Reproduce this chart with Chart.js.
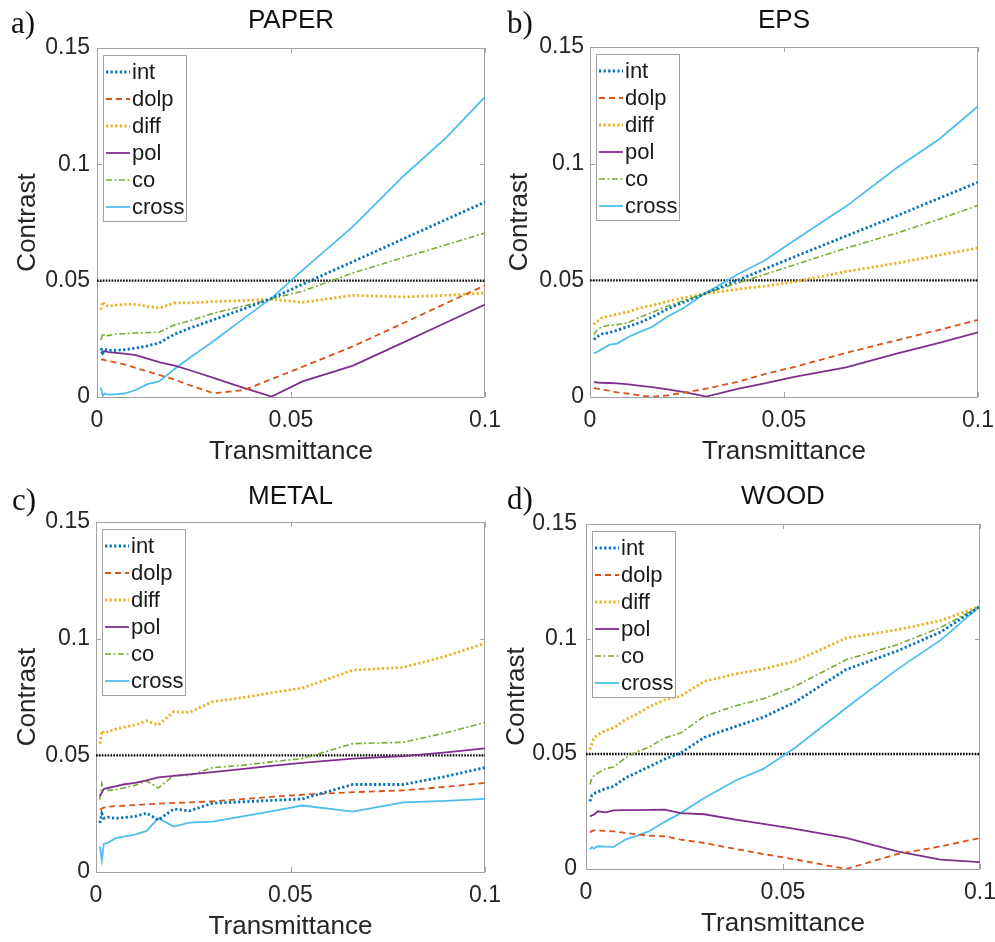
<!DOCTYPE html>
<html>
<head>
<meta charset="utf-8">
<script src="https://cdn.jsdelivr.net/npm/chart.js@4.4.1/dist/chart.umd.min.js"></script>
<style>
  body { margin: 0; background: #fff; width: 995px; height: 942px; position: relative; overflow: hidden; }
  canvas { position: absolute; }
  .tag { position: absolute; font-family: "Liberation Serif", "Times New Roman", serif; font-size: 31px; line-height: 31px; color: #111; }
</style>
</head>
<body>
<canvas id="cPaper" width="515" height="470" style="left:0;top:0"></canvas>
<canvas id="cEps" width="498" height="470" style="left:497px;top:0"></canvas>
<canvas id="cMetal" width="515" height="471" style="left:0;top:471px"></canvas>
<canvas id="cWood" width="498" height="471" style="left:497px;top:471px"></canvas>
<div class="tag" style="left:11px;top:7px">a)</div>
<div class="tag" style="left:507px;top:7px">b)</div>
<div class="tag" style="left:12px;top:484px">c)</div>
<div class="tag" style="left:507px;top:483px">d)</div>
<script>
/*
  4 panneaux : contraste en fonction de la transmittance (paper, eps, metal, wood)
*/
var transmittance = [0.001, 0.0015, 0.002, 0.003, 0.005, 0.007, 0.01, 0.013, 0.016, 0.02, 0.024, 0.03, 0.038, 0.045, 0.053, 0.066, 0.079, 0.09, 0.1];
var xTicks = [0, 0.05, 0.1];
var yTicks = [0, 0.05, 0.1, 0.15];
var threshold = 0.05;
var seriesNames = ['int', 'dolp', 'diff', 'pol', 'co', 'cross'];

// PAPER
var paperInt   = [0.021, 0.019, 0.0205, 0.020, 0.0201, 0.0203, 0.021, 0.022, 0.0232, 0.027, 0.0296, 0.0332, 0.038, 0.0424, 0.0485, 0.0582, 0.068, 0.0763, 0.0838];
var paperDolp  = [0.016, 0.0162, 0.0158, 0.0155, 0.0148, 0.014, 0.0125, 0.011, 0.0095, 0.0075, 0.005, 0.0016, 0.003, 0.0077, 0.013, 0.0218, 0.0318, 0.0403, 0.048];
var paperDiff  = [0.0375, 0.041, 0.0395, 0.039, 0.0395, 0.0398, 0.0398, 0.039, 0.0382, 0.0404, 0.0405, 0.041, 0.0415, 0.042, 0.0407, 0.0437, 0.043, 0.0437, 0.0447];
var paperPol   = [0.0188, 0.0196, 0.0197, 0.0193, 0.019, 0.0186, 0.018, 0.0165, 0.015, 0.0135, 0.0115, 0.0082, 0.0038, 0.0002, 0.0067, 0.0135, 0.0235, 0.032, 0.0397];
var paperCo    = [0.0245, 0.0275, 0.026, 0.0265, 0.027, 0.0272, 0.0275, 0.0277, 0.0278, 0.031, 0.0328, 0.036, 0.0392, 0.0422, 0.0455, 0.0533, 0.06, 0.0654, 0.0705];
var paperCross = [0.004, 0.0005, 0.0015, 0.001, 0.0012, 0.0015, 0.003, 0.0055, 0.0067, 0.012, 0.017, 0.024, 0.034, 0.0425, 0.0545, 0.0733, 0.095, 0.1115, 0.129];

// EPS
var epsInt   = [0.0246, 0.0255, 0.026, 0.027, 0.0276, 0.0286, 0.0303, 0.032, 0.0342, 0.0378, 0.0405, 0.0446, 0.05, 0.0548, 0.0603, 0.069, 0.0776, 0.0852, 0.092];
var epsDolp  = [0.0039, 0.0037, 0.0036, 0.0032, 0.0027, 0.002, 0.0014, 0.0006, 0.0001, 0.0007, 0.0018, 0.0036, 0.0065, 0.0098, 0.013, 0.0189, 0.0243, 0.0288, 0.0331];
var epsDiff  = [0.031, 0.032, 0.0325, 0.0338, 0.0347, 0.0355, 0.0366, 0.0382, 0.0392, 0.041, 0.0425, 0.0443, 0.0462, 0.0475, 0.0495, 0.0538, 0.0573, 0.0608, 0.0639];
var epsPol   = [0.0063, 0.0064, 0.0062, 0.0061, 0.006, 0.0058, 0.0054, 0.0048, 0.0042, 0.0033, 0.0022, 0.0002, 0.0035, 0.0058, 0.0087, 0.0127, 0.0186, 0.0232, 0.0277];
var epsCo    = [0.0267, 0.028, 0.029, 0.030, 0.0308, 0.031, 0.032, 0.0343, 0.0362, 0.039, 0.0412, 0.0445, 0.0488, 0.0525, 0.0568, 0.0638, 0.0702, 0.0762, 0.0821];
var epsCross = [0.0189, 0.019, 0.0195, 0.0205, 0.0224, 0.0229, 0.0258, 0.028, 0.030, 0.0345, 0.038, 0.0448, 0.0525, 0.0585, 0.0675, 0.0817, 0.0981, 0.1105, 0.1246];

// METAL
var metalInt   = [0.021, 0.025, 0.023, 0.0235, 0.023, 0.0233, 0.0238, 0.0252, 0.0223, 0.027, 0.0262, 0.0295, 0.0301, 0.0307, 0.0313, 0.0375, 0.0375, 0.041, 0.0447];
var metalDolp  = [0.0267, 0.0272, 0.0276, 0.028, 0.0282, 0.0284, 0.0287, 0.029, 0.0293, 0.0296, 0.0298, 0.0303, 0.0313, 0.0322, 0.0331, 0.0342, 0.035, 0.0365, 0.0382];
var metalDiff  = [0.055, 0.0605, 0.0595, 0.06, 0.0612, 0.062, 0.063, 0.0648, 0.063, 0.0687, 0.0684, 0.073, 0.0748, 0.0768, 0.0788, 0.0865, 0.0877, 0.0925, 0.098];
var metalPol   = [0.0324, 0.034, 0.0356, 0.036, 0.0367, 0.0375, 0.0382, 0.0393, 0.0406, 0.0412, 0.0418, 0.0428, 0.0442, 0.0455, 0.0468, 0.0486, 0.0497, 0.0513, 0.053];
var metalCo    = [0.031, 0.038, 0.0356, 0.035, 0.0353, 0.036, 0.0372, 0.039, 0.036, 0.0414, 0.0414, 0.0447, 0.0458, 0.0472, 0.0486, 0.055, 0.0556, 0.0597, 0.0641];
var metalCross = [0.011, 0.005, 0.012, 0.0125, 0.0144, 0.0152, 0.016, 0.0176, 0.023, 0.0195, 0.0212, 0.0216, 0.0239, 0.026, 0.0285, 0.0259, 0.0298, 0.0305, 0.0313];

// WOOD
var woodInt   = [0.0294, 0.032, 0.0328, 0.0335, 0.035, 0.0359, 0.0396, 0.042, 0.0445, 0.0478, 0.0504, 0.0572, 0.062, 0.066, 0.0725, 0.0867, 0.0948, 0.103, 0.1142];
var woodDolp  = [0.0159, 0.0165, 0.0168, 0.0167, 0.0166, 0.0164, 0.0157, 0.015, 0.0145, 0.0142, 0.0128, 0.0113, 0.0087, 0.0065, 0.0042, 0.0, 0.0065, 0.0098, 0.0135];
var woodDiff  = [0.0519, 0.0545, 0.057, 0.0584, 0.0603, 0.0613, 0.0649, 0.0675, 0.0705, 0.0736, 0.0751, 0.0816, 0.0848, 0.087, 0.0903, 0.1004, 0.104, 0.108, 0.1142];
var woodPol   = [0.0229, 0.0233, 0.0236, 0.0251, 0.0246, 0.0255, 0.0256, 0.0256, 0.0257, 0.0258, 0.0243, 0.0238, 0.0215, 0.0196, 0.0174, 0.0135, 0.0077, 0.0041, 0.003];
var woodCo    = [0.0367, 0.0395, 0.0405, 0.0417, 0.0437, 0.0443, 0.0483, 0.051, 0.053, 0.057, 0.0591, 0.0664, 0.071, 0.074, 0.0794, 0.091, 0.0975, 0.105, 0.1142];
var woodCross = [0.0085, 0.0095, 0.0088, 0.0099, 0.0097, 0.0096, 0.0128, 0.0145, 0.0164, 0.0205, 0.0243, 0.0309, 0.0385, 0.0435, 0.0526, 0.07, 0.0868, 0.0995, 0.1142];

// styles des courbes (couleurs matlab)
var seriesStyle = [
  { color: '#0072BD', width: 2.8, dash: [2.2, 2.4] },
  { color: '#D95319', width: 1.8, dash: [6, 4] },
  { color: '#EDB120', width: 2.8, dash: [2.2, 2.4] },
  { color: '#7E2F8E', width: 1.8, dash: [] },
  { color: '#77AC30', width: 1.6, dash: [6, 2.5, 2, 2.5] },
  { color: '#4DBEEE', width: 1.8, dash: [] }
];

Chart.defaults.font.family = '"Liberation Sans", Arial, sans-serif';
Chart.defaults.color = '#262626';

function fmt(v) {
  return String(+(+v).toFixed(3));
}

function points(ys) {
  return transmittance.map(function (t, i) { return { x: t, y: ys[i] }; });
}

// cadre gris + petits ticks vers l'interieur
var framePlugin = {
  id: 'frame',
  beforeDatasetsDraw: function (chart) {
    var ctx = chart.ctx, a = chart.chartArea, sx = chart.scales.x, sy = chart.scales.y;
    ctx.save();
    ctx.strokeStyle = '#a3a3a3';
    ctx.lineWidth = 1;
    ctx.strokeRect(Math.round(a.left) + 0.5, Math.round(a.top) + 0.5, Math.round(a.width) - 1, Math.round(a.height));
    ctx.beginPath();
    xTicks.forEach(function (v) {
      var px = Math.round(sx.getPixelForValue(v)) + 0.5;
      ctx.moveTo(px, a.bottom); ctx.lineTo(px, a.bottom - 5);
      ctx.moveTo(px, a.top); ctx.lineTo(px, a.top + 5);
    });
    yTicks.forEach(function (v) {
      var py = Math.round(sy.getPixelForValue(v)) + 0.5;
      ctx.moveTo(a.left, py); ctx.lineTo(a.left + 5, py);
      ctx.moveTo(a.right, py); ctx.lineTo(a.right - 5, py);
    });
    ctx.stroke();
    ctx.restore();
  }
};

// legende encadree dans le coin haut gauche
var boxLegend = {
  id: 'boxLegend',
  afterDatasetsDraw: function (chart) {
    var ctx = chart.ctx, a = chart.chartArea;
    var x0 = Math.round(a.left) + 6, y0 = Math.round(a.top) + 7;
    ctx.save();
    ctx.fillStyle = '#fff';
    ctx.fillRect(x0, y0, 83, 166);
    ctx.strokeStyle = '#a3a3a3';
    ctx.lineWidth = 1;
    ctx.strokeRect(x0 + 0.5, y0 + 0.5, 83, 166);
    var row = 0;
    chart.data.datasets.forEach(function (ds) {
      if (ds.noLegend) return;
      var y = y0 + 17 + row * 27;
      ctx.strokeStyle = ds.borderColor;
      ctx.lineWidth = ds.borderWidth;
      ctx.setLineDash(ds.borderDash || []);
      ctx.beginPath();
      ctx.moveTo(x0 + 3, y);
      ctx.lineTo(x0 + 27, y);
      ctx.stroke();
      ctx.setLineDash([]);
      ctx.fillStyle = '#1a1a1a';
      ctx.font = '22px "Liberation Sans", Arial, sans-serif';
      ctx.textBaseline = 'middle';
      ctx.textAlign = 'left';
      ctx.fillText(ds.label, x0 + 29, y + 1);
      row++;
    });
    ctx.restore();
  }
};

function makeChart(id, title, series, geo) {
  var datasets = series.map(function (ys, i) {
    var s = seriesStyle[i];
    return {
      label: seriesNames[i],
      data: points(ys),
      borderColor: s.color,
      borderWidth: s.width,
      borderDash: s.dash,
      borderCapStyle: 'butt',
      pointRadius: 0,
      fill: false,
      tension: 0
    };
  });
  // ligne noire pointillee a 0.05
  datasets.push({
    label: 'seuil',
    noLegend: true,
    data: [{ x: xTicks[0], y: threshold }, { x: xTicks[xTicks.length - 1], y: threshold }],
    borderColor: '#000',
    borderWidth: 2.4,
    borderDash: [1.6, 1.3],
    pointRadius: 0,
    fill: false
  });

  return new Chart(document.getElementById(id).getContext('2d'), {
    type: 'line',
    data: { datasets: datasets },
    options: {
      responsive: false,
      animation: false,
      layout: { padding: { left: 0, right: geo.padRight, top: 0, bottom: geo.padBottom } },
      plugins: {
        legend: { display: false },
        tooltip: { enabled: false },
        title: {
          display: true,
          text: title,
          fullSize: false,
          color: '#111',
          font: { size: 26, weight: 'normal', lineHeight: 1 },
          padding: { top: geo.titleTop, bottom: geo.titleBottom }
        }
      },
      scales: {
        x: {
          type: 'linear',
          min: 0,
          max: 0.1,
          grid: { display: false, drawTicks: false },
          border: { display: false },
          afterBuildTicks: function (s) { s.ticks = xTicks.map(function (v) { return { value: v }; }); },
          afterFit: function (s) { s.height = 70; s.paddingLeft = 0; s.paddingRight = 0; },
          ticks: { font: { size: 23 }, padding: 10, maxRotation: 0, autoSkip: false, color: '#262626', callback: fmt },
          title: { display: true, text: 'Transmittance', color: '#262626', font: { size: 26 }, padding: { top: 0, bottom: 0 } }
        },
        y: {
          type: 'linear',
          min: 0,
          max: 0.15,
          grid: { display: false, drawTicks: false },
          border: { display: false },
          afterBuildTicks: function (s) { s.ticks = yTicks.map(function (v) { return { value: v }; }); },
          afterFit: function (s) { s.width = geo.yWidth; s.paddingTop = 0; s.paddingBottom = 0; },
          ticks: { font: { size: 23 }, padding: geo.tickPad, autoSkip: false, color: '#262626', callback: fmt },
          title: { display: true, text: 'Contrast', color: '#262626', font: { size: 26 }, padding: { top: geo.yTitlePad, bottom: 0 } }
        }
      }
    },
    plugins: [framePlugin, boxLegend]
  });
}

makeChart('cPaper', 'PAPER',
  [paperInt, paperDolp, paperDiff, paperPol, paperCo, paperCross],
  { yWidth: 97, padRight: 30, padBottom: 3, titleTop: 8, titleBottom: 14, tickPad: 7, yTitlePad: 12 });

makeChart('cEps', 'EPS',
  [epsInt, epsDolp, epsDiff, epsPol, epsCo, epsCross],
  { yWidth: 93, padRight: 17, padBottom: 3, titleTop: 8, titleBottom: 13, tickPad: 6, yTitlePad: 7 });

makeChart('cMetal', 'METAL',
  [metalInt, metalDolp, metalDiff, metalPol, metalCo, metalCross],
  { yWidth: 96, padRight: 30, padBottom: 0, titleTop: 13, titleBottom: 12, tickPad: 6, yTitlePad: 12 });

makeChart('cWood', 'WOOD',
  [woodInt, woodDolp, woodDiff, woodPol, woodCo, woodCross],
  { yWidth: 89, padRight: 15, padBottom: 3, titleTop: 13, titleBottom: 14, tickPad: 9, yTitlePad: 4 });
</script>
</body>
</html>
